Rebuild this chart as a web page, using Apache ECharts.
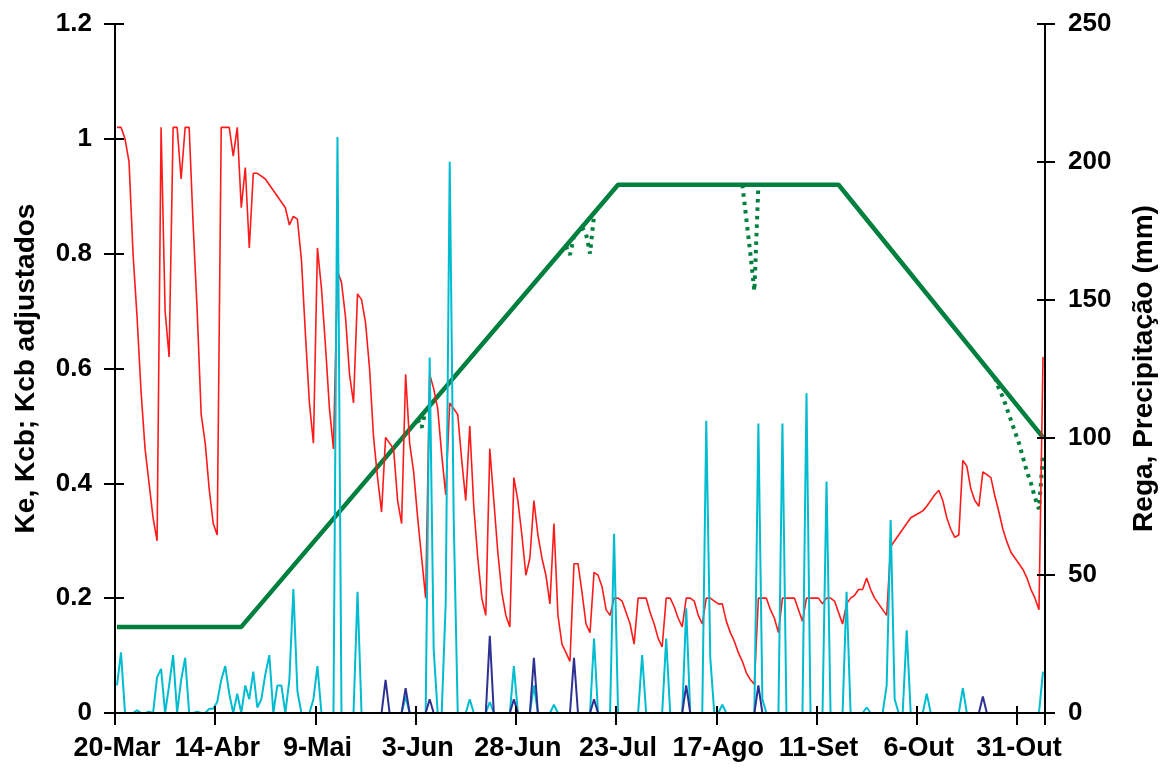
<!DOCTYPE html>
<html><head><meta charset="utf-8">
<script src="https://cdn.jsdelivr.net/npm/echarts@6/dist/echarts.min.js"></script>
<style>html,body{margin:0;padding:0;background:#fff}#c{width:1162px;height:768px}</style>
</head><body><div id="c"></div>
<script>
// Daily series, day 0 = 20-Mar
const tickLabels = ['20-Mar','14-Abr','9-Mai','3-Jun','28-Jun','23-Jul','17-Ago','11-Set','6-Out','31-Out'];
const ke = [
1.02,1.02,1.00,0.96,0.80,0.69,0.56,0.46,0.40,0.34,
0.30,1.02,0.70,0.62,1.02,1.02,0.93,1.02,1.02,0.85,
0.70,0.52,0.47,0.39,0.33,0.31,1.02,1.02,1.02,0.97,
1.02,0.88,0.95,0.81,0.94,0.94,0.935,0.93,0.92,0.91,
0.90,0.89,0.88,0.85,0.865,0.86,0.79,0.66,0.54,0.47,
0.81,0.74,0.64,0.53,0.46,0.77,0.75,0.69,0.59,0.54,
0.73,0.72,0.68,0.60,0.48,0.41,0.35,0.48,0.47,0.46,
0.37,0.33,0.59,0.47,0.42,0.34,0.27,0.20,0.59,0.565,
0.53,0.45,0.38,0.54,0.53,0.52,0.44,0.37,0.50,0.36,
0.27,0.20,0.17,0.46,0.37,0.28,0.21,0.17,0.15,0.41,
0.37,0.31,0.24,0.27,0.37,0.31,0.27,0.24,0.19,0.33,
0.17,0.12,0.105,0.09,0.26,0.26,0.21,0.155,0.14,0.245,
0.24,0.22,0.18,0.17,0.20,0.20,0.195,0.175,0.155,0.12,
0.20,0.20,0.20,0.175,0.155,0.13,0.115,0.20,0.20,0.185,
0.165,0.15,0.20,0.20,0.195,0.17,0.155,0.20,0.20,0.195,
0.19,0.19,0.16,0.14,0.125,0.105,0.09,0.07,0.058,0.05,
0.20,0.20,0.20,0.18,0.165,0.14,0.20,0.20,0.20,0.20,
0.18,0.16,0.20,0.20,0.20,0.20,0.19,0.20,0.20,0.195,
0.175,0.155,0.19,0.20,0.205,0.215,0.215,0.235,0.215,0.20,
0.19,0.18,0.17,0.29,0.30,0.31,0.32,0.33,0.34,0.344,
0.348,0.352,0.36,0.37,0.38,0.388,0.37,0.34,0.32,0.306,
0.31,0.44,0.43,0.39,0.37,0.36,0.42,0.415,0.41,0.378,
0.35,0.32,0.298,0.28,0.27,0.26,0.25,0.235,0.215,0.20,
0.18,0.62];
const precip = [
10,22,0,0,0,1,0,0,0.5,0,
13,16,0,10,21,0,12,20,0,0,
0.5,0,0,1.5,1.5,4,12,17,7,0,
7,0,10,5,15,2,5,14,21,0,
10,10,0,12,45,8,0,0,0,5,
17,0,0,0,0,209,0,0,0,0,
44,0,0,0,0,0,0,0,0,0,
0,0,6,0,0,0,0,0,129,23,
0,0,40,200,70,0,0,0,5,0,
0,0,0,4,0,0,0,0,0,17,
0,0,0,0,10,0,0,0,0,3,
0,0,0,0,0,0,0,0,0,27,
0,0,0,0,65,0,0,0,0,0,
0,21,0,0,0,0,0,27,0,0,
0,0,38,0,0,0,0,106,20,0,
0,3,0,0,0,0,0,0,0,0,
105,5,0,0,0,0,105,0,0,0,
0,0,116,0,0,0,0,84,0,0,
0,0,44,0,0,0,0,2,0,0,
0,0,10,70,5,0,0,30,0,0,
0,0,7,0,0,0,0,0,0,0,
0,9,0,0,0,0,0,0,0,0,
0,0,0,0,0,0,0,0,0,0,
0,15];
const rega = [
0,0,0,0,0,0,0,0,0,0,
0,0,0,0,0,0,0,0,0,0,
0,0,0,0,0,0,0,0,0,0,
0,0,0,0,0,0,0,0,0,0,
0,0,0,0,0,0,0,0,0,0,
0,0,0,0,0,0,0,0,0,0,
0,0,0,0,0,0,0,12,0,0,
0,0,9,0,0,0,0,0,5,0,
0,0,0,0,0,0,0,0,0,0,
0,0,0,28,0,0,0,0,0,5,
0,0,0,0,20,0,0,0,0,0,
0,0,0,0,20,0,0,0,0,5,
0,0,0,0,0,0,0,0,0,0,
0,0,0,0,0,0,0,0,0,0,
0,0,10,0,0,0,0,0,0,0,
0,0,0,0,0,0,0,0,0,0,
10,0,0,0,0,0,0,0,0,0,
0,0,0,0,0,0,0,0,0,0,
0,0,0,0,0,0,0,0,0,0,
0,0,0,0,0,0,0,0,0,0,
0,0,0,0,0,0,0,0,0,0,
0,0,0,0,0,0,6,0,0,0,
0,0,0,0,0,0,0,0,0,0,
0,0];
// Kcb (basal crop coefficient) vertices
const kcbDays = [0, 31, 125, 180, 231];
const kcbVals = [0.15, 0.15, 0.92, 0.92, 0.48];
// Kcb adjusted: segments where it departs from Kcb
const adjDays = [[75,76,77],[112,113,114],[116,117,118,119],[156,157,158,159,160],
  [219,220,221,222,223,224,225,226,227,228,229,230,231]];
const adjVals = [[0.511,0.497,0.527],[0.813,0.798,0.830],[0.846,0.835,0.80,0.867],
  [0.92,0.86,0.80,0.735,0.92],
  [0.584,0.565,0.55,0.53,0.51,0.49,0.47,0.445,0.42,0.40,0.375,0.355,0.45]];

const days = ke.map((_, i) => i);
const FONT = "'Liberation Sans', Arial, sans-serif";
const lab = {fontFamily: FONT, fontWeight: 'bold', fontSize: 26, color: '#000'};
const labX = {fontFamily: FONT, fontWeight: 'bold', fontSize: 27, color: '#000'};
const nameStyle = {fontFamily: FONT, fontWeight: 'bold', fontSize: 28, color: '#000'};
const blackLine = {show: true, lineStyle: {color: '#000', width: 2}};

const series = [
  {type: 'line', name: 'Kcb', xAxisIndex: 0, yAxisIndex: 0, z: 2, showSymbol: false,
   data: kcbDays.map((d, i) => [d, kcbVals[i]]), lineStyle: {color: '#00803f', width: 4.5}},
];
adjDays.forEach((seg, k) => series.push({
  type: 'line', name: 'Kcb adj' + k, xAxisIndex: 0, yAxisIndex: 0, z: 2, showSymbol: false,
  data: seg.map((d, i) => [d, adjVals[k][i]]),
  lineStyle: {color: '#00803f', width: 4, type: [3.5, 5]}
}));
series.push(
  {type: 'line', name: 'Ke', xAxisIndex: 0, yAxisIndex: 0, z: 3, showSymbol: false,
   data: ke, lineStyle: {color: '#ff1a1a', width: 1.6}},
  {type: 'line', name: 'Precipitação', xAxisIndex: 0, yAxisIndex: 1, z: 4, showSymbol: false,
   data: precip, lineStyle: {color: '#00bcd0', width: 2}},
  {type: 'line', name: 'Rega', xAxisIndex: 0, yAxisIndex: 1, z: 5, showSymbol: false,
   data: rega, lineStyle: {color: '#2e3192', width: 2}}
);

const chart = echarts.init(document.getElementById('c'), null, {renderer: 'canvas'});
chart.setOption({
  animation: false,
  backgroundColor: '#fff',
  grid: {left: 115, right: 117, top: 24, bottom: 55, containLabel: false, outerBoundsMode: 'none'},
  xAxis: [
    {type: 'category', data: days, position: 'bottom', boundaryGap: true, z: 6,
     axisLine: blackLine,
     axisTick: {show: true, interval: 24, length: 12, lineStyle: {color: '#000', width: 2}},
     axisLabel: Object.assign({interval: 24, margin: 22,
       formatter: (v, i) => tickLabels[Math.round(i / 25)] || ''}, labX),
     splitLine: {show: false}},
    {type: 'category', data: days, position: 'bottom', boundaryGap: true, z: 6,
     axisLine: {show: false},
     axisTick: {show: true, inside: true, interval: 24, length: 7, lineStyle: {color: '#000', width: 2}},
     axisLabel: {show: false}, splitLine: {show: false}}
  ],
  yAxis: [
    {type: 'value', position: 'left', min: 0, max: 1.2, interval: 0.2, z: 6,
     axisLine: blackLine,
     axisTick: {show: true, length: 11, lineStyle: {color: '#000', width: 2}},
     axisLabel: Object.assign({margin: 23, formatter: v => String(Math.round(v * 10) / 10)}, lab),
     splitLine: {show: false},
     name: 'Ke, Kcb; Kcb adjustados', nameLocation: 'middle', nameGap: 75, nameRotate: 90,
     nameTextStyle: nameStyle},
    {type: 'value', position: 'right', min: 0, max: 250, interval: 50, z: 6,
     axisLine: blackLine,
     axisTick: {show: true, length: 10, lineStyle: {color: '#000', width: 2}},
     axisLabel: Object.assign({margin: 23}, lab),
     splitLine: {show: false},
     name: 'Rega, Precipitação (mm)', nameLocation: 'middle', nameGap: 85, nameRotate: 90,
     nameTextStyle: nameStyle},
    {type: 'value', position: 'left', min: 0, max: 1.2, interval: 0.2, z: 6,
     axisLine: {show: false},
     axisTick: {show: true, inside: true, length: 9, lineStyle: {color: '#000', width: 2}},
     axisLabel: {show: false}, splitLine: {show: false}},
    {type: 'value', position: 'right', min: 0, max: 250, interval: 50, z: 6,
     axisLine: {show: false},
     axisTick: {show: true, inside: true, length: 8, lineStyle: {color: '#000', width: 2}},
     axisLabel: {show: false}, splitLine: {show: false}}
  ],
  series: series
});
</script></body></html>
